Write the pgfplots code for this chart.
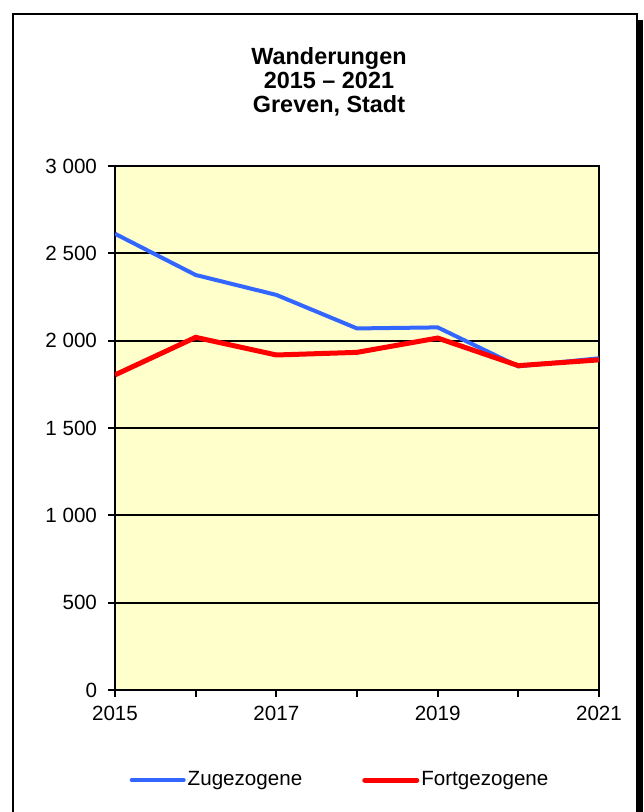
\documentclass[border=0pt]{standalone}
\usepackage{fontspec}
\setmainfont{Liberation Sans}
\usepackage{pgfplots}
\pgfplotsset{compat=1.18}
\definecolor{bgyellow}{RGB}{255,255,204}
\definecolor{zublue}{RGB}{51,102,255}
\definecolor{fortred}{RGB}{255,0,0}
\begin{document}
\begin{tikzpicture}
\useasboundingbox (0,0) rectangle (321.5pt,406pt);
\fill[white] (0,0) rectangle (321.5pt,406pt);
% outer frame with shadow on the right
\draw[line width=1.2pt] (6.5pt,-3pt) -- (6.5pt,399pt) -- (318.5pt,399pt) -- (318.5pt,-3pt);
\fill[black] (318.5pt,-3pt) rectangle (321.5pt,396pt);
% title
\node[anchor=base,font=\bfseries\fontsize{11.7}{13}\selectfont] at (164.5pt,373.5pt) {Wanderungen};
\node[anchor=base,font=\bfseries\fontsize{11.7}{13}\selectfont] at (164.5pt,361.5pt) {2015 -- 2021};
\node[anchor=base,font=\bfseries\fontsize{11.7}{13}\selectfont] at (164.5pt,349.5pt) {Greven, Stadt};
\begin{axis}[
  at={(57.5pt,61pt)}, anchor=south west,
  scale only axis, width=242pt, height=262pt,
  xmin=2015, xmax=2021, ymin=0, ymax=3000,
  xtick={2015,2016,2017,2018,2019,2020,2021},
  xticklabels={2015,,2017,,2019,,2021},
  ytick={0,500,1000,1500,2000,2500,3000},
  xtick pos=bottom, ytick pos=left,
  tick align=outside, major tick length=3.5pt,
  tick style={black, line width=0.9pt},
  ymajorgrids, grid style={black, line width=1pt},
  axis line style={line width=1.1pt},
  axis background/.style={fill=bgyellow},
  tick label style={font=\fontsize{10.3}{12}\selectfont},
  /pgf/number format/assume math mode=true,
  /pgf/number format/1000 sep={\ },
  yticklabel style={xshift=-2pt},
  xticklabel style={yshift=-1pt},
  legend columns=2,
  legend style={at={(rel axis cs:0.465,-0.172)}, anchor=center, draw=none, fill=none,
    font=\fontsize{10.3}{12}\selectfont,
    /tikz/every even column/.append style={column sep=29pt},
    nodes={inner sep=1pt}},
  legend image code/.code={\draw[#1, line cap=round] (0pt,0pt) -- (26pt,0pt);},
]
\addplot[color=zublue, line width=2pt] coordinates {
  (2015,2612) (2016,2376) (2017,2262) (2018,2070) (2019,2076) (2020,1853) (2021,1899)
};
\addplot[color=fortred, line width=2.5pt] coordinates {
  (2015,1804) (2016,2019) (2017,1918) (2018,1933) (2019,2015) (2020,1857) (2021,1890)
};
\legend{Zugezogene, Fortgezogene}
\end{axis}
\end{tikzpicture}
\end{document}
